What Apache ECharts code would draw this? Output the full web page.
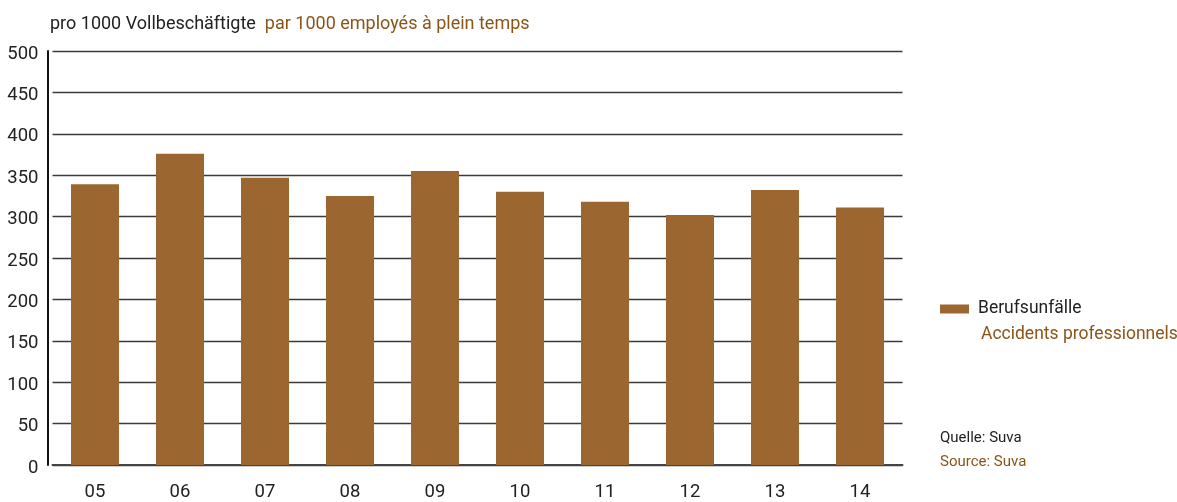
<!DOCTYPE html>
<html>
<head>
<meta charset="utf-8">
<script src="https://cdn.jsdelivr.net/npm/echarts@6/dist/echarts.min.js"></script>
<style>
  html, body { margin: 0; padding: 0; background: #fff; }
  #chart { width: 1177px; height: 502px; }
</style>
</head>
<body>
<div id="chart"></div>
<script>
// Berufsunfälle pro 1000 Vollbeschäftigte, 2005–2014
const years = ['05', '06', '07', '08', '09', '10', '11', '12', '13', '14'];
const accidents = [339, 376, 347, 325, 355, 330, 318, 302, 332, 311];
const yTicks = { min: 0, max: 500, step: 50 };

const FONT = 'Roboto, "Liberation Sans", sans-serif';
const DARK = '#222222';
const BROWN = '#8a5518';
const BAR = '#9c6630';

const chart = echarts.init(document.getElementById('chart'));
chart.setOption({
  animation: false,
  textStyle: { fontFamily: FONT },
  title: [
    {
      left: 45, top: 10,
      text: '{a|pro 1000 Vollbeschäftigte}  {b|par 1000 employés à plein temps}',
      textStyle: {
        rich: {
          a: { fontFamily: FONT, fontSize: 18, fontWeight: 'normal', color: DARK },
          b: { fontFamily: FONT, fontSize: 18, fontWeight: 'normal', color: BROWN }
        }
      }
    },
    {
      left: 976, top: 321,
      text: 'Accidents professionnels',
      textStyle: { fontFamily: FONT, fontSize: 17.5, fontWeight: 'normal', color: BROWN }
    },
    {
      left: 935, top: 426,
      text: 'Quelle: Suva',
      textStyle: { fontFamily: FONT, fontSize: 15, fontWeight: 'normal', color: DARK }
    },
    {
      left: 935, top: 450,
      text: 'Source: Suva',
      textStyle: { fontFamily: FONT, fontSize: 15, fontWeight: 'normal', color: BROWN }
    }
  ],
  legend: {
    left: 935, top: 295,
    icon: 'rect',
    itemWidth: 29, itemHeight: 9,
    itemGap: 10,
    textStyle: { fontFamily: FONT, fontSize: 17.5, color: DARK, padding: [0, 0, 0, 4] },
    data: ['Berufsunfälle']
  },
  grid: { left: 52.5, right: 274.5, top: 51, bottom: 36, containLabel: false },
  xAxis: {
    type: 'category',
    data: years,
    axisLine: { show: true, lineStyle: { color: '#444', width: 2 } },
    axisTick: { show: false },
    axisLabel: { color: DARK, fontSize: 18.5, margin: 18, fontFamily: FONT }
  },
  yAxis: {
    type: 'value',
    min: yTicks.min, max: yTicks.max, interval: yTicks.step,
    offset: 5,
    axisLine: { show: true, lineStyle: { color: '#111', width: 2 } },
    axisTick: { show: false },
    axisLabel: { color: DARK, fontSize: 18.5, margin: 9, fontFamily: FONT, verticalAlign: 'top', lineHeight: 20, padding: [-7, 0, 0, 0] },
    splitLine: { show: true, lineStyle: { color: '#3a3a3a', width: 1.3 } }
  },
  series: [
    {
      name: 'Berufsunfälle',
      type: 'bar',
      data: accidents,
      barWidth: 48,
      itemStyle: { color: BAR }
    }
  ]
});
</script>
</body>
</html>
